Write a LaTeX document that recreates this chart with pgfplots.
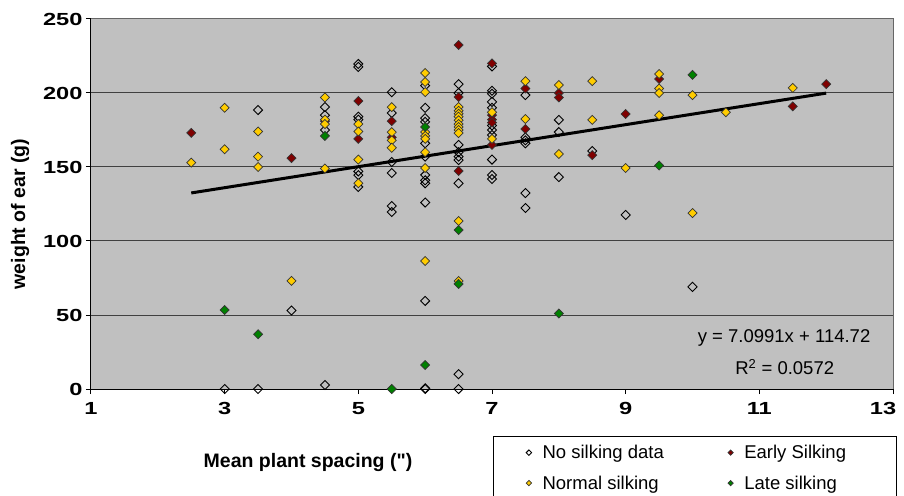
\documentclass[border=0pt]{standalone}
\usepackage{fontspec}
\setmainfont{Liberation Sans}
\newfontfamily\tickfam[FakeStretch=1.35]{Liberation Sans}
\newfontfamily\plainfam{Liberation Sans}
\usepackage{pgfplots}
\pgfplotsset{compat=1.18}
\definecolor{bggray}{HTML}{C0C0C0}
\definecolor{earlyc}{HTML}{800000}
\definecolor{normalc}{HTML}{FFCC00}
\definecolor{latec}{HTML}{008000}
\newcommand\tickfont{\tickfam\fontsize{17.5}{17.5}\selectfont\bfseries}
\newcommand\labfont{\plainfam\fontsize{19.5}{21}\selectfont\bfseries}
\newcommand\txtfont{\fontsize{18.5}{20}\selectfont}
\begin{document}
\begin{tikzpicture}
\begin{axis}[
  scale only axis, width=802pt, height=370pt,
  xmin=1, xmax=13, ymin=0, ymax=250,
  xtick={1,3,...,13}, ytick={0,50,...,250},
  xticklabels={1,3,5,7,9,11,{13\hspace*{20pt}}},
  axis x line=bottom, axis y line=left,
  axis line style={-, black, line width=1pt},
  axis background/.style={fill=bggray},
  ymajorgrids, grid style={black!75, line width=1pt},
  tick align=outside, major tick length=5pt,
  tick style={black, line width=1pt},
  clip=false,
  /pgf/number format/assume math mode=true,
  ticklabel style={font=\tickfont},
  xticklabel style={yshift=-5pt},
  xlabel={Mean plant spacing (")},
  xlabel style={font=\labfont, at={(axis description cs:0.2706,-0.2)}, anchor=center},
  ylabel={weight of ear (g)},
  ylabel style={font=\labfont, at={(axis description cs:-0.0885,0.473)}, anchor=center},
  legend columns=2,
  legend cell align=left,
  legend style={draw=none, fill=none, font=\txtfont, inner sep=0pt,
    at={(axis description cs:0.5424,-0.1514)}, anchor=north west,
    row sep=15.5pt,
    nodes={inner sep=0pt},
    /tikz/every odd column/.append style={column sep=11pt},
    /tikz/every even column/.append style={column sep=64pt}},
  legend image code/.code={\draw[#1, mark size=1.9pt] plot coordinates {(0pt,0pt)};},
  mark size=3.2pt,
]
\coordinate (sw) at (rel axis cs:0,0);
\coordinate (ne) at (rel axis cs:1,1);
\draw[black!60, line width=1pt] (rel axis cs:0,1) -- (rel axis cs:1,1) -- (rel axis cs:1,0);
% No silking data
\addplot[only marks, mark=square, mark options={rotate=45, draw=black, line width=0.9pt}] coordinates {
(3,0) (3.5,188.5) (3.5,0) (4,53)
(4.5,190.5) (4.5,185) (4.5,175) (4.5,2.7)
(5,219.6) (5,217.6) (5,184) (5,182) (5,147) (5,144.5) (5,136.5)
(5.5,200.5) (5.5,186.5) (5.5,153.4) (5.5,146) (5.5,123.6) (5.5,119.6)
(6,205) (6,190) (6,183) (6,180.5) (6,166) (6,157) (6,144.6) (6,141) (6,139) (6,126) (6,59.5) (6,0) (6,0.5)
(6.5,206) (6.5,200) (6.5,164.9) (6.5,160) (6.5,157) (6.5,154.7) (6.5,139) (6.5,10) (6.5,0)
(7,218) (7,201.5) (7,199.5) (7,194) (7,190) (7,178) (7,175) (7,171.6) (7,155) (7,144.6) (7,141.9)
(7.5,198.6) (7.5,170) (7.5,168) (7.5,166) (7.5,132.4) (7.5,122.3)
(8,181.8) (8,173.6) (8,143.2)
(8.5,160.8) (9,117.6) (10,69)
};
\addlegendentry{No silking data}
% Early silking
\addplot[only marks, mark=square*, mark options={rotate=45, fill=earlyc, draw=black!80, line width=0.7pt}] coordinates {
(2.5,173) (4,156) (4.5,181)
(5,194.6) (5,169)
(5.5,181) (5.5,170)
(6.5,232.4) (6.5,197.3) (6.5,147.3)
(7,220) (7,185) (7,182) (7,180) (7,165)
(7.5,203) (7.5,175.7)
(8,200) (8,197) (8.5,158) (9,185.8) (9.5,209.5)
(11.5,191) (12,206)
};
\addlegendentry{Early Silking}
% Normal silking
\addplot[only marks, mark=square*, mark options={rotate=45, fill=normalc, draw=black!80, line width=0.7pt}] coordinates {
(2.5,153) (3,190) (3,162) (3.5,174) (3.5,157) (3.5,150) (4,73)
(4.5,197) (4.5,182) (4.5,179) (4.5,149)
(5,179) (5,174) (5,155) (5,139)
(5.5,190.5) (5.5,173.5) (5.5,168) (5.5,163)
(6,213.5) (6,207.4) (6,200.6) (6,173.6) (6,171) (6,169) (6,160) (6,149.3) (6,86.5)
(6.5,190.5) (6.5,188) (6.5,186) (6.5,184) (6.5,181.6) (6.5,179) (6.5,177) (6.5,175) (6.5,172.9) (6.5,113.5) (6.5,73)
(7,187) (7,169)
(7.5,208) (7.5,182.4)
(8,205.4) (8,158.8)
(8.5,208) (8.5,181.8)
(9,149.3)
(9.5,212.8) (9.5,203) (9.5,200) (9.5,185)
(10,198.6) (10,118.9) (10.5,187) (11.5,203.4)
};
\addlegendentry{Normal silking}
% Late silking
\addplot[only marks, mark=square*, mark options={rotate=45, fill=latec, draw=black!80, line width=0.7pt}] coordinates {
(3,53.4) (3.5,37) (4.5,171) (5.5,0) (6,177) (6,16.2)
(6.5,107.4) (6.5,71) (8,51) (9.5,151) (10,212.2)
};
\addlegendentry{Late silking}
% trendline
\addplot[black, line width=3pt, no marks, forget plot] coordinates {(2.5,132.47) (12,199.91)};
\node[font=\txtfont, anchor=center] at (axis cs:11.37,34.5) {y = 7.0991x + 114.72};
\node[font=\txtfont, anchor=center] at (axis cs:11.38,14.9) {R\textsuperscript{2} = 0.0572};
\draw[black, line width=1pt] (axis cs:7.015,-85) rectangle (axis cs:13.045,-31.76);
\end{axis}
\pgfresetboundingbox
\path[use as bounding box] ([xshift=-91pt,yshift=-106pt]sw) rectangle ([xshift=11pt,yshift=19pt]ne);
\end{tikzpicture}
\end{document}
